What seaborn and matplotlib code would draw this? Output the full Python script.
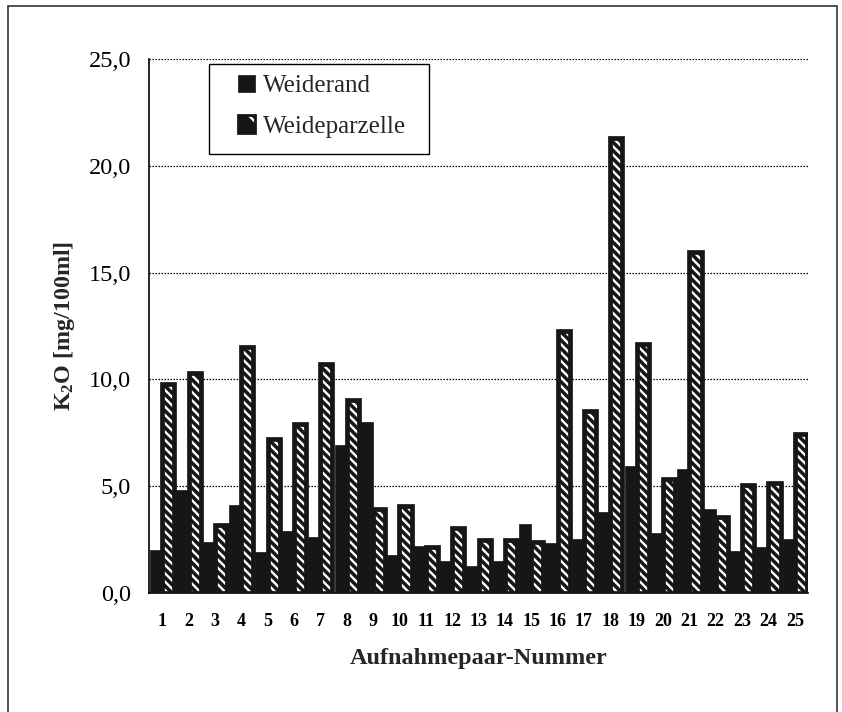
import numpy as np
import pandas as pd
import matplotlib
matplotlib.use("Agg")
import matplotlib.pyplot as plt
import seaborn as sns
from matplotlib.patches import Patch, Rectangle
from matplotlib.ticker import FuncFormatter, FixedLocator

# ---------------- data ----------------
nummer = [str(i) for i in range(1, 26)]
weiderand = [2.0, 4.8, 2.4, 4.1, 1.9, 2.9, 2.6, 6.95, 8.0, 1.8,
             2.2, 1.5, 1.25, 1.5, 3.25, 2.35, 2.55, 3.8, 5.95, 2.8,
             5.8, 3.95, 1.95, 2.15, 2.55]
weideparzelle = [9.8, 10.3, 3.2, 11.5, 7.2, 7.9, 10.7, 9.05, 3.95, 4.05,
                 2.15, 3.05, 2.5, 2.5, 2.4, 12.25, 8.5, 21.3, 11.65, 5.35,
                 15.95, 3.55, 5.05, 5.15, 7.45]
series = ["Weiderand", "Weideparzelle"]
yticks = [0, 5, 10, 15, 20, 25]
xlabel_text = "Aufnahmepaar-Nummer"
ylabel_text = r"K$_\mathrm{2}$O [mg/100ml]"

df = pd.DataFrame({
    "Nummer": nummer * 2,
    "Serie": [series[0]] * len(nummer) + [series[1]] * len(nummer),
    "K2O": weiderand + weideparzelle,
})

# ---------------- style ----------------
sns.set_style("white")
plt.rcParams["font.family"] = ["Liberation Serif", "DejaVu Serif"]
plt.rcParams["mathtext.fontset"] = "custom"
plt.rcParams["mathtext.rm"] = "Liberation Serif:bold"
plt.rcParams["mathtext.bf"] = "Liberation Serif:bold"
plt.rcParams["mathtext.it"] = "Liberation Serif:bold:italic"
plt.rcParams["hatch.linewidth"] = 1.7

dark = "#161616"
white = (1, 1, 1, 1)
hatch_pat = "\\\\\\\\"

fig = plt.figure(figsize=(8.42, 7.12), dpi=100)
ax = fig.add_axes([149 / 842, (712 - 593) / 712, 659 / 842, (593 - 59) / 712])

sns.barplot(data=df, x="Nummer", y="K2O", hue="Serie", order=nummer,
            hue_order=series, palette=[dark, dark], saturation=1,
            width=0.92, gap=0, errorbar=None, legend=False, ax=ax, zorder=3)

for p in ax.containers[0]:
    p.set_edgecolor(dark)
    p.set_linewidth(0.5)
for p in ax.containers[1]:
    p.set_facecolor(dark)
    p.set_edgecolor(dark)
    p.set_linewidth(3.4)
    p.set_hatch(hatch_pat)
    p._hatch_color = white

# axes
ax.set_xlim(-0.5, len(nummer) - 0.5)
ax.set_ylim(0, 25)
ax.set_yticks(yticks)
ax.yaxis.set_major_formatter(FuncFormatter(lambda v, _: f"{v:.1f}".replace(".", ",")))
ax.yaxis.grid(True, linestyle=(0, (1.2, 1.2)), color="black", linewidth=0.9, zorder=0)
ax.xaxis.grid(False)
ax.set_axisbelow(True)

for s in ["top", "right"]:
    ax.spines[s].set_visible(False)
for s in ["left", "bottom"]:
    ax.spines[s].set_color("black")
    ax.spines[s].set_linewidth(1.2)

ax.tick_params(axis="y", length=5, width=1, direction="out", labelsize=17.5, pad=8, colors="black")
ax.tick_params(axis="x", which="major", length=0, labelsize=13, pad=14.5, colors="black")
ax.xaxis.set_minor_locator(FixedLocator(np.arange(-0.5, len(nummer), 1)))
ax.tick_params(axis="x", which="minor", length=6, width=1, direction="out", colors="black")
for t in ax.get_xticklabels():
    t.set_fontweight("bold")

ax.set_xlabel(xlabel_text, fontsize=17.5, fontweight="bold", labelpad=13)
ax.set_ylabel(ylabel_text, fontsize=17.3, fontweight="bold", labelpad=8)

# legend
h1 = Patch(facecolor=dark, edgecolor=dark, linewidth=0.5)
h2 = Patch(facecolor=dark, edgecolor=dark, linewidth=2.0, hatch="\\")
h2._hatch_color = white
leg = ax.legend([h1, h2], series, loc="upper left",
                bbox_to_anchor=((238 - 149) / 659, (593 - 75) / 534),
                borderpad=0, borderaxespad=0, frameon=False,
                fontsize=18, handlelength=0.68, handleheight=0.68,
                handletextpad=0.3, labelspacing=0.72)
ax.add_patch(Rectangle(((209 - 149) / 659, (593 - 154) / 534),
                       (429 - 209) / 659, (154 - 64) / 534,
                       transform=ax.transAxes, fill=False,
                       edgecolor="black", linewidth=1.0, zorder=5, clip_on=False))

# outer border of the figure
fig.patches.append(Rectangle((8 / 842, -0.02), (837 - 8) / 842, 1.02 - 6 / 712,
                             transform=fig.transFigure, fill=False,
                             edgecolor="#333333", linewidth=1.2))

fig.savefig("out.png", dpi=100)
